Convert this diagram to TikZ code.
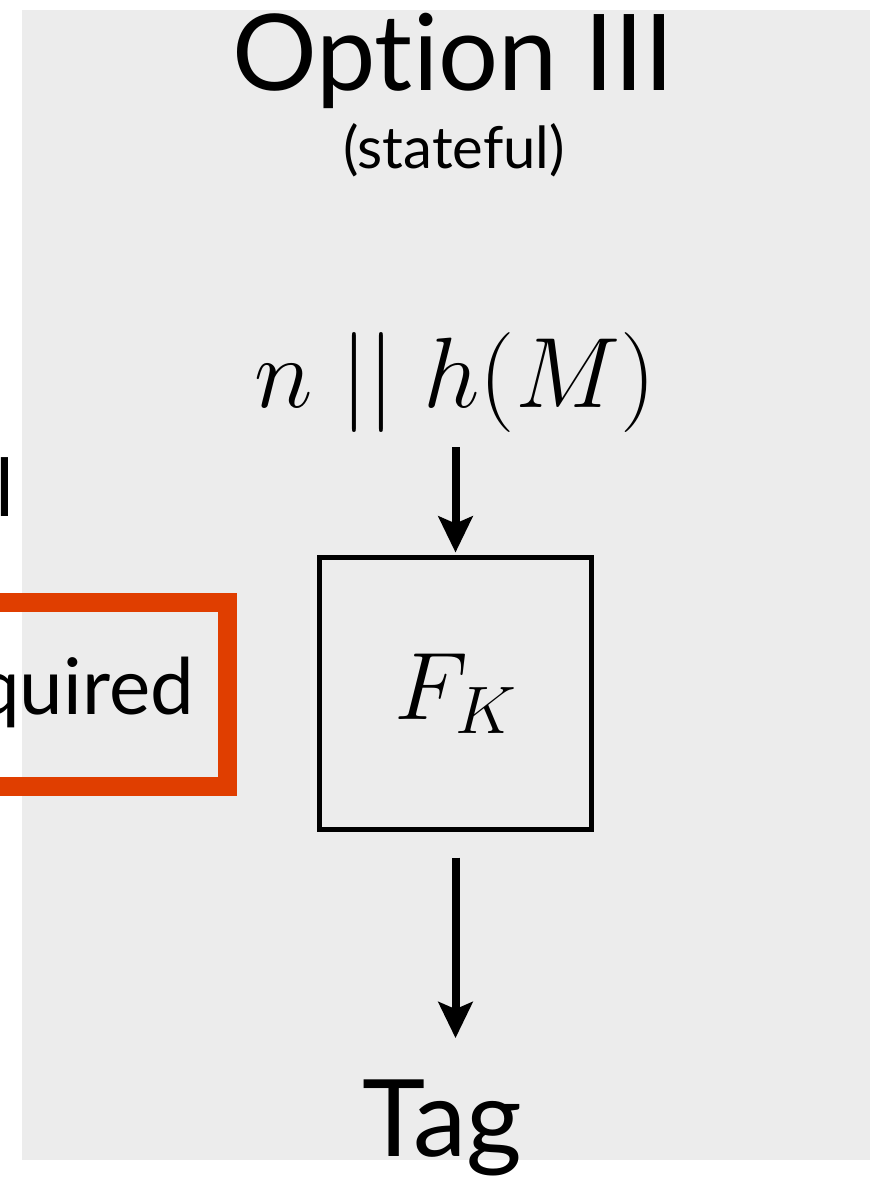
\RequirePackage{fix-cm}
\documentclass[tikz,border=0pt]{standalone}
\usepackage{fontspec}
\setmainfont{Lato}[Ligatures=NoCommon]
\usetikzlibrary{arrows.meta}
\definecolor{panel}{RGB}{236,236,236}
\definecolor{alert}{RGB}{224,62,0}
\tikzset{
  arr/.style={line width=8pt, -{Stealth[length=36pt, width=34pt, inset=7pt]}},
  fbox/.style={draw, line width=5pt, minimum width=272pt, minimum height=272pt, inner sep=0pt},
  txt/.style={inner sep=0pt, anchor=base},
}
\begin{document}
\begin{tikzpicture}[x=1pt, y=-1pt]
  \useasboundingbox (0,0) rectangle (870,1177);
  \clip (0,0) rectangle (870,1177);
  % grey panel
  \fill[panel] (22,10) rectangle (870,1160);

  % neighbouring panel content
  \node[txt, anchor=base east, font=\fontsize{80}{90}\selectfont] (lword) at (15,516) {l};
  \draw[alert, line width=19pt] (-100,602.5) -| (227.5,786.5) -- (-100,786.5);
  \node[txt, anchor=base east, font=\fontsize{78}{90}\selectfont] (req) at (194,714) {required};

  % title
  \node[txt, font=\fontsize{106}{120}\selectfont] (title) at (453,91) {Option III};
  \node[txt, font=\fontsize{58}{70}\selectfont] (sub) at (454,169) {(stateful)};

  % input, PRF box and output
  \node[txt, font=\fontsize{100}{110}\selectfont] (inp) at (455,407) {$n \mathrel{||} h(M)$};
  \node[fbox, font=\fontsize{96}{110}\selectfont] (prf) at (455.5,693.5) {$F_K$};
  \node[txt, font=\fontsize{107}{120}\selectfont] (tag) at (442,1156) {Tag};

  \draw[arr, shorten <=15pt, shorten >=2.5pt] (inp.south -| prf.north) -- (prf.north);
  \draw[arr, shorten <=25.5pt, shorten >=41pt] (prf.south) -- (prf.south |- tag.north);
\end{tikzpicture}
\end{document}
